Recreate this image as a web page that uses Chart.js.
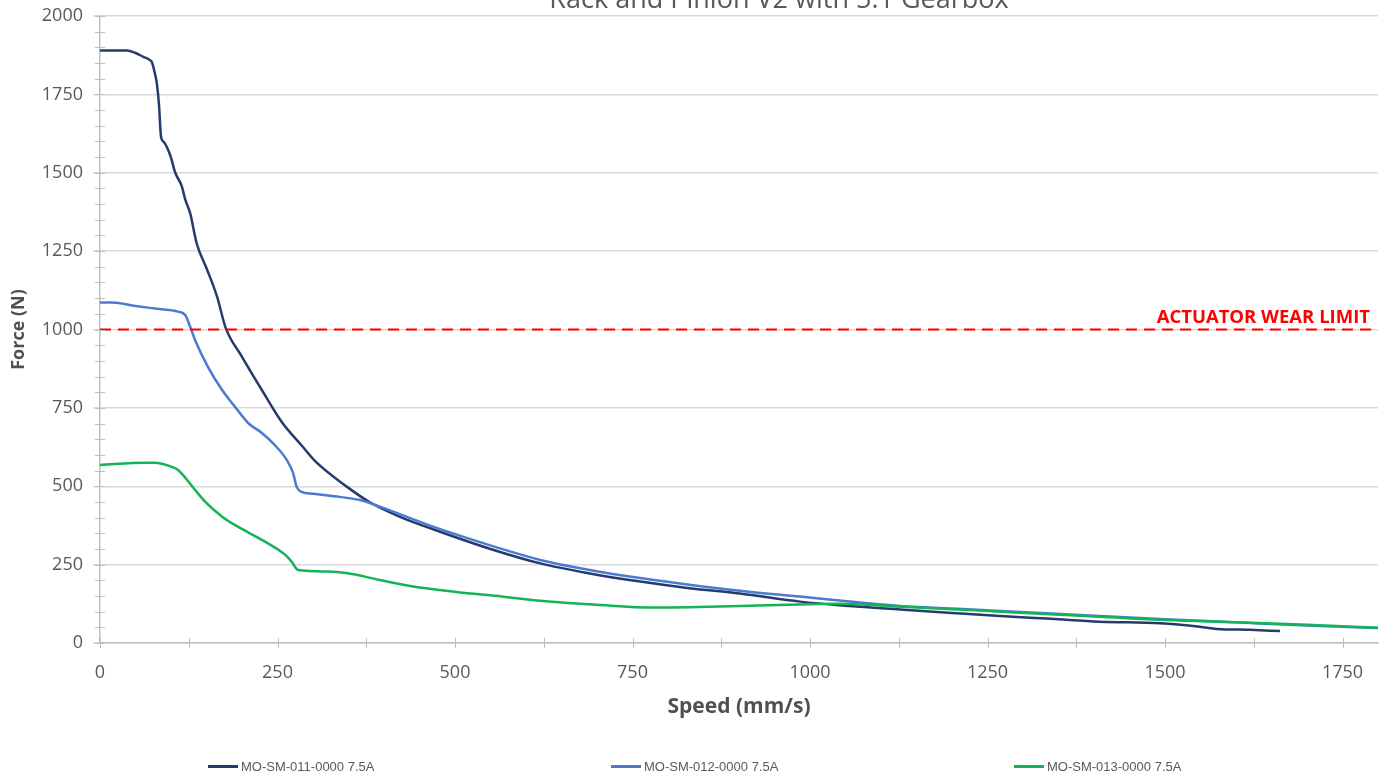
<!DOCTYPE html>
<html>
<head>
<meta charset="utf-8">
<script src="https://cdn.jsdelivr.net/npm/chart.js@4.4.0/dist/chart.umd.min.js"></script>
<style>
  body { margin: 0; background: #fff; }
  #wrap { position: relative; width: 1390px; height: 776px; overflow: hidden; }
  #legend { position: absolute; left: 208px; top: 757px; display: flex; font: 13px "Liberation Sans Narrow", "Liberation Sans", sans-serif; color: #595959; }
  #legend .item { width: 403px; display: flex; align-items: center; height: 18px; }
  #legend .swatch { width: 30px; height: 3px; margin-right: 3px; }
</style>
</head>
<body>
<div id="wrap">
  <canvas id="forceChart" width="1390" height="776"></canvas>
  <div id="legend"></div>
</div>
<script>
// speed (mm/s) / force (N)
const speed011 = [0, 38, 50, 61, 70, 73, 77, 80, 83, 86, 90, 99, 106, 115, 120, 127, 136, 151, 165, 177, 200, 228, 256, 284, 303, 348, 380, 420, 479, 550, 620, 690, 761, 830, 901, 986, 1056, 1127, 1200, 1268, 1340, 1408, 1493, 1549, 1573, 1620, 1662];
const force011 = [1890, 1890, 1882, 1870, 1860, 1853, 1820, 1786, 1720, 1614, 1598, 1555, 1500, 1458, 1415, 1371, 1276, 1190, 1104, 1005, 913, 807, 705, 630, 580, 498, 449, 405, 355, 300, 254, 222, 196, 175, 158, 132, 118, 107, 96, 86, 77, 68, 63, 52, 45, 42, 38];

const speed012 = [0, 17, 50, 80, 110, 120, 127, 134, 152, 172, 190, 209, 228, 246, 263, 272, 277, 284, 300, 330, 366, 394, 469, 563, 620, 690, 761, 830, 901, 986, 1056, 1127, 1200, 1268, 1340, 1408, 1500, 1600, 1700, 1800];
const force012 = [1086, 1086, 1075, 1066, 1057, 1046, 1009, 966, 881, 807, 754, 701, 670, 632, 584, 542, 498, 482, 476, 468, 456, 435, 371, 302, 265, 233, 207, 186, 167, 148, 132, 118, 110, 102, 94, 86, 76, 66, 56, 48];

const speed013 = [0, 63, 77, 101, 110, 134, 148, 172, 194, 228, 261, 270, 279, 321, 347, 394, 441, 502, 550, 620, 700, 779, 901, 986, 1042, 1127, 1200, 1268, 1408, 1503, 1600, 1700, 1800];
const force013 = [568, 575, 575, 562, 552, 488, 451, 403, 371, 329, 281, 259, 233, 228, 223, 201, 180, 163, 152, 135, 122, 113, 118, 123, 125, 116, 108, 100, 84, 73, 66, 58, 49];

const wearLimit = 1000;
const seriesNames = ['MO-SM-011-0000 7.5A', 'MO-SM-012-0000 7.5A', 'MO-SM-013-0000 7.5A'];
const seriesColors = ['#263b6c', '#4a7bd0', '#12b456'];

const xMajor = [0, 250, 500, 750, 1000, 1250, 1500, 1750];
const xMinor = [0, 125, 250, 375, 500, 625, 750, 875, 1000, 1125, 1250, 1375, 1500, 1625, 1750];
const yMajor = [0, 250, 500, 750, 1000, 1250, 1500, 1750, 2000];
const yMinorStep = 50;

const chartTitle = 'Rack and Pinion V2 with 5:1 Gearbox';
const wearLabel = 'ACTUATOR WEAR LIMIT';

const toPoints = (xs, ys) => xs.map((x, i) => ({ x: x, y: ys[i] }));

const axisGrey = '#bfbfbf';
const textGrey = '#595959';
const titleGrey = '#505050';
const tickFont = { family: '"Open Sans", sans-serif', size: 18 };

// minor ticks, red label and the cut-off title
const extras = {
  id: 'extras',
  afterDraw(chart) {
    const { ctx, scales: { x, y } } = chart;
    ctx.save();
    ctx.strokeStyle = axisGrey;
    ctx.lineWidth = 1;
    const y0 = y.getPixelForValue(0);
    xMinor.forEach(v => {
      const px = Math.round(x.getPixelForValue(v)) + 0.5;
      ctx.beginPath(); ctx.moveTo(px, y0 - 5); ctx.lineTo(px, y0 + 5); ctx.stroke();
    });
    const x0 = x.getPixelForValue(0);
    for (let v = 0; v <= 2000; v += yMinorStep) {
      const py = Math.round(y.getPixelForValue(v)) + 0.5;
      ctx.beginPath(); ctx.moveTo(x0 - 5, py); ctx.lineTo(x0 + 5, py); ctx.stroke();
    }

    ctx.fillStyle = '#ff0000';
    ctx.font = 'bold 18.5px "Open Sans", sans-serif';
    ctx.textAlign = 'right';
    ctx.textBaseline = 'alphabetic';
    ctx.fillText(wearLabel, x.right - 8, y.getPixelForValue(wearLimit) - 7);

    ctx.fillStyle = textGrey;
    ctx.font = '27px "Open Sans", sans-serif';
    ctx.textAlign = 'center';
    ctx.fillText(chartTitle, 779, 8);
    ctx.restore();
  }
};

const datasets = [
  { label: seriesNames[0], data: toPoints(speed011, force011), borderColor: seriesColors[0], order: 3 },
  { label: seriesNames[1], data: toPoints(speed012, force012), borderColor: seriesColors[1], order: 2 },
  { label: seriesNames[2], data: toPoints(speed013, force013), borderColor: seriesColors[2], order: 1 }
].map(d => Object.assign(d, {
  backgroundColor: d.borderColor,
  borderWidth: 2.5,
  pointRadius: 0,
  showLine: true,
  cubicInterpolationMode: 'monotone'
}));

datasets.push({
  label: 'wear',
  data: [{ x: 0, y: wearLimit }, { x: 1800, y: wearLimit }],
  borderColor: '#ff0000',
  borderWidth: 2,
  borderDash: [11, 7],
  pointRadius: 0,
  showLine: true,
  order: 0
});

const ctx = document.getElementById('forceChart').getContext('2d');
const forceChart = new Chart(ctx, {
  type: 'scatter',
  data: { datasets },
  options: {
    responsive: false,
    animation: false,
    layout: { padding: { top: 16, right: 12, bottom: 54, left: 0 } },
    plugins: { legend: { display: false }, tooltip: { enabled: false } },
    scales: {
      x: {
        type: 'linear', min: 0, max: 1800,
        afterBuildTicks: s => { s.ticks = xMajor.map(v => ({ value: v })); },
        afterFit: s => { s.height = 79; s.paddingLeft = 0; s.paddingRight = 0; },
        border: { color: axisGrey, width: 1.5 },
        grid: { drawOnChartArea: false, drawTicks: true, tickLength: 10, tickColor: 'rgba(0,0,0,0)' },
        ticks: { color: textGrey, font: tickFont, padding: 9, maxRotation: 0, autoSkip: false, callback: v => String(v) },
        title: { display: true, text: 'Speed (mm/s)', color: titleGrey, font: { family: '"Open Sans", sans-serif', size: 21, weight: 'bold' }, padding: { top: 0, bottom: 2 } }
      },
      y: {
        type: 'linear', min: 0, max: 2000,
        afterBuildTicks: s => { s.ticks = yMajor.map(v => ({ value: v })); },
        afterFit: s => { s.width = 100; s.paddingTop = 0; s.paddingBottom = 0; },
        border: { color: axisGrey, width: 1.5 },
        grid: { color: '#d9d9d9', lineWidth: 1.5, tickColor: '#d9d9d9', tickLength: 7 },
        ticks: { color: textGrey, font: tickFont, padding: 10, callback: v => String(v) },
        title: { display: true, text: 'Force (N)', color: titleGrey, font: { family: '"Open Sans", sans-serif', size: 18, weight: 'bold' }, padding: { top: 8, bottom: 0 } }
      }
    }
  },
  plugins: [extras]
});

// html legend, built from the three motor series
const legend = document.getElementById('legend');
forceChart.data.datasets.slice(0, 3).forEach(d => {
  const item = document.createElement('div');
  item.className = 'item';
  item.innerHTML = `<span class="swatch" style="background:${d.borderColor}"></span><span>${d.label}</span>`;
  legend.appendChild(item);
});
</script>
</body>
</html>
